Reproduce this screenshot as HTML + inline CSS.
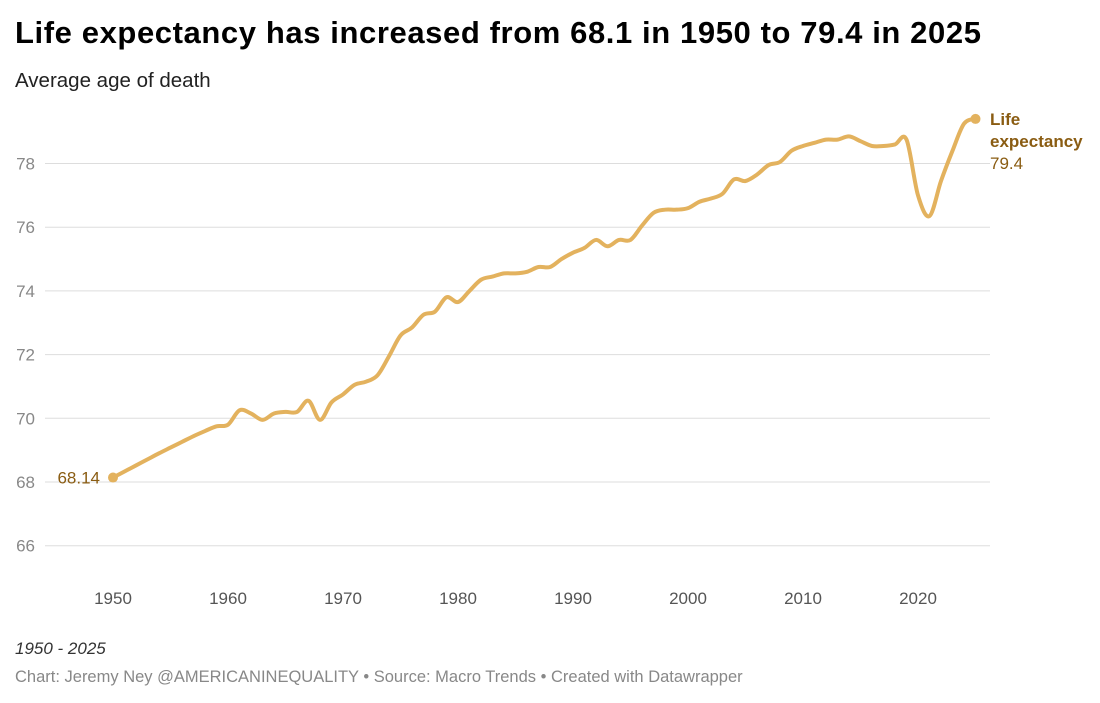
<!DOCTYPE html>
<html><head><meta charset="utf-8"><style>
body{margin:0;background:#fff;font-family:"Liberation Sans",sans-serif;}
#wrap{position:relative;width:1100px;height:703px;overflow:hidden}
.t{position:absolute;white-space:nowrap}
</style></head><body><div id="wrap">
<div class="t" style="left:15px;top:15px;font-size:31px;letter-spacing:0.6px;font-weight:bold;color:#000">Life expectancy has increased from 68.1 in 1950 to 79.4 in 2025</div>
<div class="t" style="left:15px;top:69px;font-size:20.5px;color:#222">Average age of death</div>
<svg id="svg" width="1100" height="703" style="position:absolute;left:0;top:0"></svg>
<div class="t" style="left:15px;top:639px;font-size:17px;font-style:italic;color:#333">1950 - 2025</div>
<div class="t" style="left:15px;top:668px;font-size:16.5px;color:#888">Chart: Jeremy Ney @AMERICANINEQUALITY • Source: Macro Trends • Created with Datawrapper</div>
</div>
<script>
const years=[];for(let y=1950;y<=2025;y++)years.push(y);
const values=[68.14,68.33,68.52,68.71,68.9,69.08,69.26,69.44,69.6,69.75,69.8,70.25,70.15,69.95,70.15,70.2,70.2,70.55,69.95,70.5,70.75,71.05,71.15,71.35,71.95,72.6,72.85,73.25,73.35,73.8,73.65,74.0,74.35,74.45,74.55,74.55,74.6,74.75,74.75,75.0,75.2,75.35,75.6,75.4,75.6,75.6,76.05,76.45,76.55,76.55,76.6,76.8,76.9,77.05,77.5,77.45,77.65,77.95,78.05,78.4,78.55,78.65,78.75,78.75,78.85,78.7,78.55,78.55,78.6,78.75,77.0,76.35,77.45,78.4,79.25,79.4];
const yTicks=[66,68,70,72,74,76,78];
const xTicks=[1950,1960,1970,1980,1990,2000,2010,2020];
const svg=document.getElementById('svg');const NS='http://www.w3.org/2000/svg';
const X=y=>113+(y-1950)*11.5, Y=v=>482-(v-68)*31.85;
function mk(t,a,p){const e=document.createElementNS(NS,t);for(const k in a)e.setAttribute(k,a[k]);(p||svg).appendChild(e);return e;}
yTicks.forEach(v=>{
 const l=mk('line',{x1:45,x2:990,y1:Y(v),y2:Y(v),stroke:'#ddd','stroke-width':1});
 
 
 const t=mk('text',{x:35,y:Y(v)+6,'font-size':17,fill:'#888','text-anchor':'end'});t.textContent=v;
 
 
});
xTicks.forEach(v=>{
 const t=mk('text',{x:X(v),y:604,'font-size':17,fill:'#555','text-anchor':'middle'});t.textContent=v;
 
 
});
const pts=years.map((y,i)=>[X(y),Y(values[i])]);
let d='M'+pts[0][0]+','+pts[0][1];
for(let i=0;i<pts.length-1;i++){const p0=pts[Math.max(0,i-1)],p1=pts[i],p2=pts[i+1],p3=pts[Math.min(pts.length-1,i+2)];
 const c1=[p1[0]+(p2[0]-p0[0])/6,p1[1]+(p2[1]-p0[1])/6],c2=[p2[0]-(p3[0]-p1[0])/6,p2[1]-(p3[1]-p1[1])/6];
 d+=` C${c1[0]},${c1[1]} ${c2[0]},${c2[1]} ${p2[0]},${p2[1]}`;}
const path=mk('path',{d:d,fill:'none',stroke:'#e3b25e','stroke-width':4,'stroke-linejoin':'round'});


const last=pts.length-1;
[0,last].forEach(i=>{const c=mk('circle',{cx:pts[i][0],cy:pts[i][1],r:5,fill:'#e3b25e'});
 
 });
const s=mk('text',{x:pts[0][0]-13,y:pts[0][1]+6,'font-size':17,fill:'#8a5c12','text-anchor':'end'});s.textContent=values[0].toFixed(2);


const lx=990,ly=pts[last][1];
[['Life','bold',ly+6],['expectancy','bold',ly+28],[values[last].toFixed(1),'normal',ly+50]].forEach((a,k)=>{
 const t=mk('text',{x:lx,y:a[2],'font-size':17,'font-weight':a[1],fill:'#8a5c12'});t.textContent=a[0];
 
 });
</script></body></html>
